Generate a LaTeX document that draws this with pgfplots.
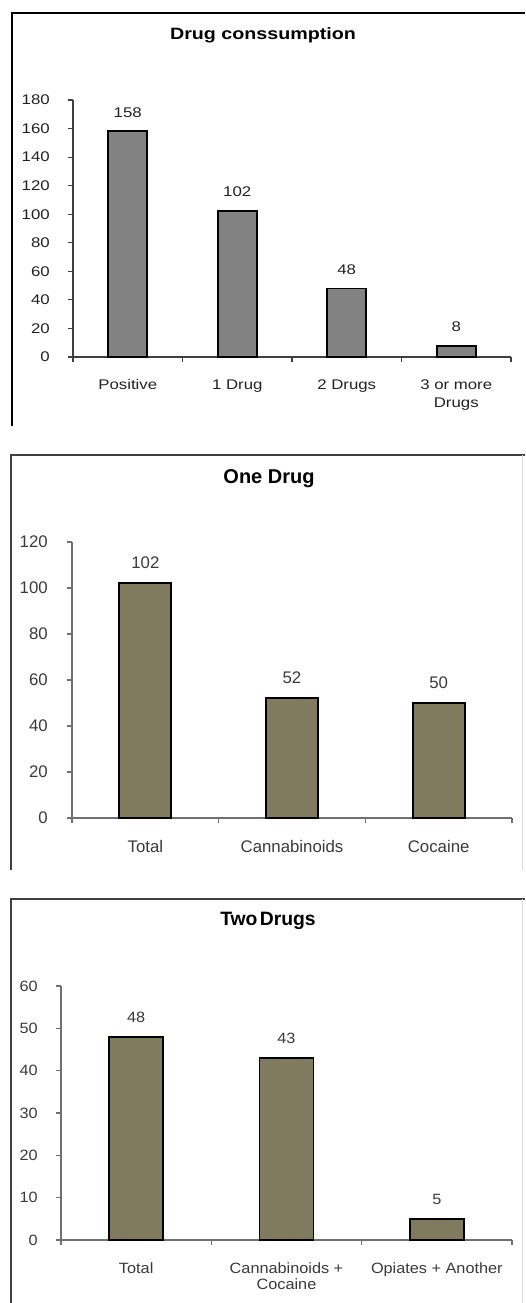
\documentclass[border=0pt]{standalone}
\usepackage{fontspec}
\setmainfont{Liberation Sans}
\newfontfamily\fa{Liberation Sans}[FakeStretch=1.2]
\newfontfamily\fc{Liberation Sans}[FakeStretch=1.09]
\usepackage{pgfplots}
\pgfplotsset{compat=1.18}
\definecolor{barA}{HTML}{828282}
\definecolor{barB}{HTML}{807A5F}
\definecolor{axA}{HTML}{404040}
\definecolor{axB}{HTML}{707070}
\definecolor{txA}{HTML}{222222}
\definecolor{txB}{HTML}{3A3A3A}
\pgfplotsset{
  panel/.style={
    anchor=south west, scale only axis, clip=false, ybar,
    ymin=0,
    axis x line*=bottom, axis y line*=left,
    tick align=outside, major tick length=3.75pt,
    x tick label as interval,
    /pgf/number format/assume math mode=true,
    xticklabel style={align=center, inner sep=0pt, anchor=north},
    yticklabel style={inner sep=0pt, anchor=east},
    nodes near coords,
    every node near coord/.append style={anchor=south, inner sep=0pt, yshift=10pt},
  }
}
\begin{document}
\begin{tikzpicture}[x=0.75pt,y=-0.75pt]
\path[use as bounding box] (0,0) rectangle (525,1303);
% frames
\draw[black, line width=0.9pt] (12,426) -- (12,13) -- (525,13);
\draw[black!75, line width=0.9pt] (11,870) -- (11,455) -- (525,455);
\draw[black!15, line width=0.6pt] (522,455) -- (522,870);
\draw[black!75, line width=0.9pt] (11,1303) -- (11,899) -- (525,899);
\draw[black!15, line width=0.6pt] (522,899) -- (522,1303);
% titles
\node[font={\fa\bfseries\fontsize{12.3}{14}\selectfont}, inner sep=0pt] at (263,35) {Drug conssumption};
\node[font={\bfseries\fontsize{15}{17}\selectfont}, inner sep=0pt] at (269,479) {One Drug};
\node[font={\bfseries\fontsize{14.5}{17}\selectfont}, inner sep=0pt] at (268,921) {Two\hspace{0.12em}Drugs};

% Panel 1
\begin{axis}[panel,
  at={(54.75pt,-267.75pt)}, width=328.5pt, height=192.75pt,
  xmin=-0.5, xmax=3.5, ymax=180, ytick={0,20,...,180},
  xtick={-0.5,0.5,1.5,2.5,3.5},
  xticklabels={Positive,1 Drug,2 Drugs,{3 or more\\Drugs}},
  axis line style={-, draw=axA, line width=0.8pt},
  tick style={draw=axA, line width=0.8pt},
  ticklabel style={font={\fa\fontsize{10.5}{13.9}\selectfont}, text=txA},
  xticklabel style={yshift=-13pt},
  yticklabel style={xshift=-13.5pt},
  bar width=29.25pt,
  every node near coord/.append style={font={\fa\fontsize{10.5}{13}\selectfont}, text=txA},
]
\addplot[fill=barA, draw=black, line width=1.4pt] coordinates {(0,158) (1,102) (2,48) (3,8)};
\end{axis}

% Panel 2
\begin{axis}[panel,
  at={(54pt,-613.5pt)}, width=330pt, height=207pt,
  xmin=-0.5, xmax=2.5, ymax=120, ytick={0,20,...,120},
  xtick={-0.5,0.5,1.5,2.5},
  xticklabels={Total,Cannabinoids,Cocaine},
  axis line style={-, draw=axB, line width=0.8pt},
  tick style={draw=axB, line width=0.8pt},
  ticklabel style={font={\fontsize{12.6}{15}\selectfont}, text=txB},
  xticklabel style={yshift=-13pt},
  yticklabel style={xshift=-14.25pt},
  bar width=39pt,
  every node near coord/.append style={font={\fontsize{12.6}{15}\selectfont}, text=txB},
]
\addplot[fill=barB, draw=black, line width=1.4pt] coordinates {(0,102) (1,52) (2,50)};
\end{axis}

% Panel 3
\begin{axis}[panel,
  at={(45.75pt,-930pt)}, width=338.25pt, height=190.5pt,
  xmin=-0.5, xmax=2.5, ymax=60, ytick={0,10,...,60},
  xtick={-0.5,0.5,1.5,2.5},
  xticklabels={Total,{Cannabinoids +\\Cocaine},Opiates + Another},
  axis line style={-, draw=axB, line width=0.8pt},
  tick style={draw=axB, line width=0.8pt},
  ticklabel style={font={\fc\fontsize{11.2}{12}\selectfont}, text=txB},
  xticklabel style={yshift=-13pt},
  yticklabel style={xshift=-13.5pt},
  bar width=40.5pt,
  every node near coord/.append style={font={\fc\fontsize{11.2}{13}\selectfont}, text=txB},
]
\addplot[fill=barB, draw=black, line width=1.4pt] coordinates {(0,48) (1,43) (2,5)};
\end{axis}
\end{tikzpicture}
\end{document}
